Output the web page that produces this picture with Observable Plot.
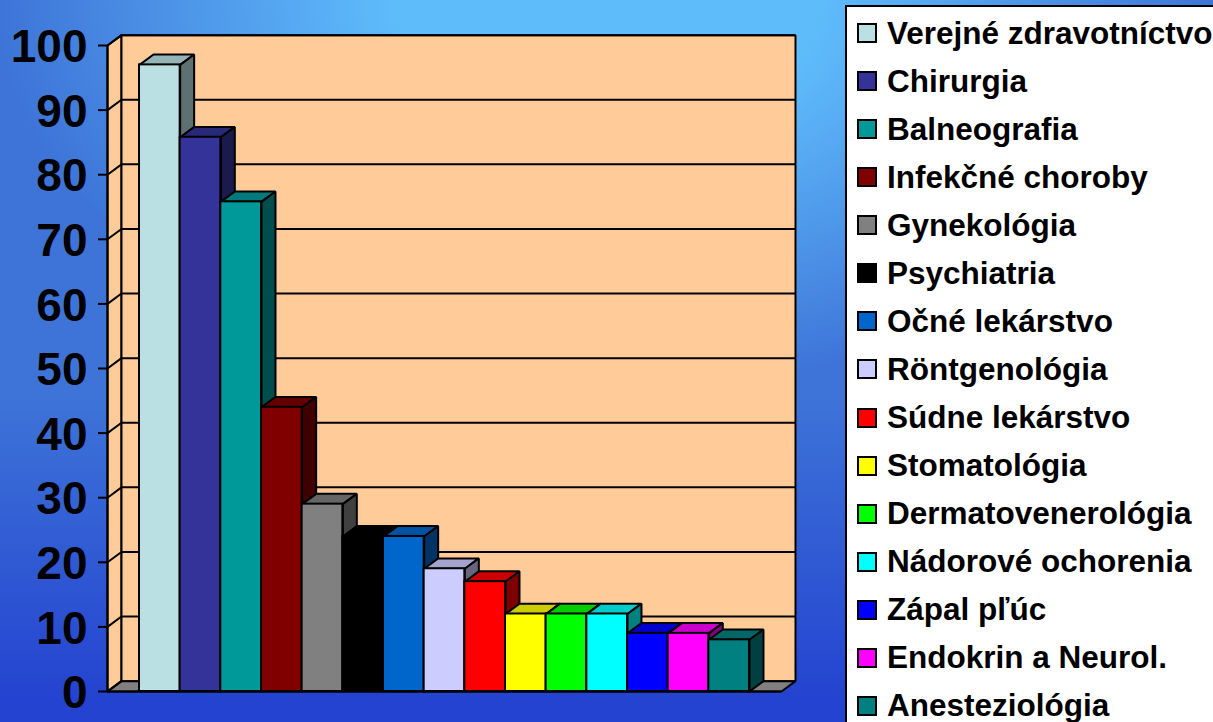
<!DOCTYPE html>
<html><head><meta charset="utf-8">
<script src="https://cdn.jsdelivr.net/npm/d3@7"></script>
<script src="https://cdn.jsdelivr.net/npm/@observablehq/plot@0.6"></script>
<style>
html,body{margin:0;padding:0;width:1213px;height:722px;overflow:hidden;}
body{position:relative;background:linear-gradient(to bottom, rgba(36,67,208,0) 55%, rgba(36,67,208,1) 97%), radial-gradient(ellipse 700px 450px at 50% 0, #5fbcfb 30%, #3e74d8 87%);font-family:"Liberation Sans",Arial,sans-serif;}
#chart{position:absolute;left:0;top:0;}
#legend{position:absolute;left:845px;top:5px;width:400px;height:760px;box-sizing:border-box;background:#fff;border:2px solid #000;}
.row{position:absolute;left:10px;display:flex;align-items:center;height:36px;font-weight:bold;font-size:31.5px;color:#000;white-space:nowrap;}
.sw{width:16px;height:16px;border:2px solid #000;margin-right:10px;flex:none;}
</style></head><body>
<div id="chart"></div><div id="legend"></div>
<script>
const categories = ["Verejné zdravotníctvo","Chirurgia","Balneografia","Infekčné choroby","Gynekológia","Psychiatria","Očné lekárstvo","Röntgenológia","Súdne lekárstvo","Stomatológia","Dermatovenerológia","Nádorové ochorenia","Zápal pľúc","Endokrin a Neurol.","Anesteziológia"];
const values = [97,85.8,75.8,44,29,24,24,19,17,12,12,12,9,9,8];
const colors = ["#bbe0e3","#333399","#009999","#800000","#808080","#000000","#0066cc","#ccccff","#ff0000","#ffff00","#00ff00","#00ffff","#0000ff","#ff00ff","#008080"];
const yTicks = [0,10,20,30,40,50,60,70,80,90,100];

const depthX = 0.344, depthY = 1.6;
const xMin = -0.787, xMax = 15.787, wallTop = 100;
const shade = (c,k) => { const o = d3.rgb(c); return d3.rgb(o.r*k,o.g*k,o.b*k).formatHex(); };
const poly = (pts, fill) => Plot.line([...pts, pts[0]], {x:"0", y:"1", fill, stroke:"#000", strokeWidth:2, strokeLinejoin:"miter", curve:"linear"});

const marks = [
  poly([[xMin,0],[xMin+depthX,depthY],[xMin+depthX,wallTop+depthY],[xMin,wallTop]], "#ffcc99"),
  poly([[xMin+depthX,depthY],[xMax+depthX,depthY],[xMax+depthX,wallTop+depthY],[xMin+depthX,wallTop+depthY]], "#ffcc99"),
  poly([[xMin,0],[xMax,0],[xMax+depthX,depthY],[xMin+depthX,depthY]], "#808080"),
  Plot.ruleY(yTicks.filter(d => d > 0), {y: d => d + depthY, x1: xMin+depthX, x2: xMax+depthX, stroke:"#000", strokeWidth:2}),
  Plot.link(yTicks, {x1: xMin, y1: d => d, x2: xMin+depthX, y2: d => d + depthY, stroke:"#000", strokeWidth:2}),
  Plot.ruleX([xMin], {y1:0, y2:wallTop, stroke:"#000", strokeWidth:2}),
  Plot.ruleY([0], {x1:xMin, x2:xMax, stroke:"#000", strokeWidth:2}),
  Plot.axisY(yTicks, {anchor:"left", label:null, tickSize:9, tickFormat:()=>"", strokeWidth:2, strokeOpacity:1}),
  Plot.axisY(yTicks, {anchor:"left", label:null, tickSize:0, tickPadding:20, dy:2, fontSize:46, fontWeight:"bold", tickFormat:d=>d, fontFamily:"Liberation Sans"})
];
values.forEach((v,i) => {
  const c = colors[i];
  marks.push(
    poly([[i,v],[i+1,v],[i+1+depthX,v+depthY],[i+depthX,v+depthY]], shade(c,0.8)),
    poly([[i+1,0],[i+1+depthX,depthY],[i+1+depthX,v+depthY],[i+1,v]], shade(c,0.5)),
    Plot.rect([v], {x1:i, x2:i+1, y1:0, y2:d=>d, fill:c, stroke:"#000", strokeWidth:2})
  );
});

const chart = Plot.plot({
  width:846, height:722,
  marginLeft:107, marginRight:65, marginTop:45, marginBottom:31,
  x:{domain:[xMin,xMax], axis:null},
  y:{domain:[0,100]},
  style:{background:"transparent", overflow:"visible", color:"#000"},
  marks
});
document.getElementById("chart").appendChild(chart);

const legend = document.getElementById("legend");
categories.forEach((name,i) => {
  const r = document.createElement("div"); r.className = "row";
  r.style.top = (33 + i*48.07 - 5 - 2 - 18) + "px";
  const s = document.createElement("span"); s.className = "sw"; s.style.background = colors[i];
  const t = document.createElement("span"); t.textContent = name;
  r.append(s,t); legend.appendChild(r);
});
</script>
</body></html>
